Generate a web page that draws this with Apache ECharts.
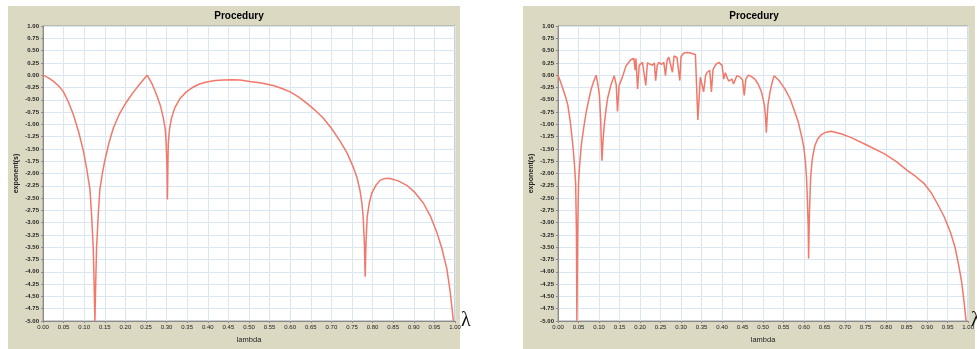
<!DOCTYPE html>
<html>
<head>
<meta charset="utf-8">
<script src="https://cdn.jsdelivr.net/npm/echarts@6/dist/echarts.min.js"></script>
<style>
html,body{margin:0;padding:0;background:#fff;}
#c{width:977px;height:349px;}
</style>
</head>
<body>
<div id="c"></div>
<script>
// Left panel: lambda vs exponent
const leftSeries = [
  [0,0],[0.012,-0.05],[0.025,-0.12],[0.037,-0.21],[0.049,-0.33],[0.062,-0.55],[0.074,-0.81],[0.086,-1.14],
  [0.098,-1.54],[0.106,-1.9],[0.114,-2.33],[0.118,-2.85],[0.122,-3.53],[0.124,-4.2],[0.126,-5],
  [0.128,-4.2],[0.130,-3.53],[0.134,-2.85],[0.138,-2.33],[0.144,-2.0],[0.150,-1.74],[0.160,-1.38],
  [0.171,-1.07],[0.186,-0.78],[0.203,-0.54],[0.219,-0.35],[0.235,-0.18],[0.245,-0.08],[0.253,0],
  [0.265,-0.18],[0.276,-0.41],[0.285,-0.62],[0.292,-0.87],[0.297,-1.12],[0.299,-1.4],[0.301,-1.9],
  [0.302,-2.53],[0.303,-1.9],[0.304,-1.4],[0.307,-1.1],[0.312,-0.87],[0.320,-0.66],[0.333,-0.47],
  [0.348,-0.34],[0.365,-0.24],[0.380,-0.18],[0.397,-0.14],[0.418,-0.11],[0.438,-0.10],[0.458,-0.095],
  [0.478,-0.10],[0.502,-0.13],[0.530,-0.16],[0.559,-0.21],[0.580,-0.27],[0.600,-0.34],[0.620,-0.44],
  [0.640,-0.57],[0.660,-0.71],[0.680,-0.87],[0.700,-1.08],[0.721,-1.34],[0.738,-1.58],[0.753,-1.87],
  [0.762,-2.08],[0.769,-2.33],[0.774,-2.6],[0.777,-2.87],[0.780,-3.4],[0.782,-4.1],[0.784,-3.4],
  [0.787,-2.87],[0.792,-2.6],[0.798,-2.40],[0.808,-2.24],[0.818,-2.14],[0.830,-2.10],[0.842,-2.10],
  [0.862,-2.15],[0.883,-2.24],[0.903,-2.39],[0.923,-2.60],[0.940,-2.86],[0.956,-3.2],[0.968,-3.52],
  [0.980,-3.93],[0.988,-4.38],[0.996,-5]
];
// Right panel: lambda vs exponent
const rightSeries = [
  [0,0],[0.006,-0.13],[0.012,-0.28],[0.018,-0.43],[0.024,-0.61],[0.030,-0.95],[0.036,-1.41],[0.040,-1.8],
  [0.043,-2.2],[0.045,-3.2],[0.046,-5],[0.048,-3.2],[0.050,-2.2],[0.053,-1.8],[0.057,-1.41],[0.063,-1.05],
  [0.069,-0.74],[0.075,-0.5],[0.081,-0.28],[0.087,-0.13],[0.093,0],[0.097,-0.18],[0.101,-0.41],
  [0.104,-0.9],[0.107,-1.74],[0.110,-1.3],[0.113,-1.0],[0.117,-0.7],[0.121,-0.47],[0.129,-0.2],
  [0.137,-0.01],[0.142,-0.2],[0.145,-0.74],[0.149,-0.21],[0.157,-0.04],[0.166,0.19],[0.178,0.32],
  [0.185,0.34],[0.188,0.1],[0.190,0.34],[0.194,-0.28],[0.198,0.2],[0.206,0.26],[0.214,-0.21],
  [0.218,0.25],[0.222,0.27],[0.230,0.2],[0.235,0.25],[0.238,-0.11],[0.242,0.2],[0.246,0.26],
  [0.252,0.22],[0.258,0.26],[0.262,-0.01],[0.266,0.3],[0.270,0.37],[0.279,0.06],[0.283,0.39],
  [0.290,0.36],[0.297,-0.11],[0.300,0.38],[0.307,0.45],[0.315,0.46],[0.323,0.45],[0.335,0.42],[0.341,-0.91],
  [0.347,-0.04],[0.355,-0.34],[0.360,0.0],[0.364,0.06],[0.370,0.1],[0.374,-0.34],[0.378,0.12],
  [0.385,0.22],[0.392,0.26],[0.400,0.2],[0.404,-0.08],[0.408,0.05],[0.412,-0.04],[0.416,-0.12],
  [0.420,-0.14],[0.424,-0.08],[0.428,-0.18],[0.436,-0.01],[0.444,-0.04],[0.450,-0.1],[0.454,-0.41],
  [0.458,-0.08],[0.464,0.0],[0.472,-0.03],[0.480,-0.08],[0.488,-0.18],[0.496,-0.34],[0.503,-0.6],
  [0.506,-0.85],[0.508,-1.17],[0.510,-0.85],[0.512,-0.6],[0.517,-0.34],[0.522,-0.15],[0.527,-0.01],
  [0.540,-0.12],[0.553,-0.28],[0.566,-0.48],[0.577,-0.74],[0.586,-0.96],[0.593,-1.21],[0.599,-1.45],
  [0.603,-1.74],[0.606,-2.1],[0.608,-2.53],[0.610,-3.1],[0.611,-3.73],[0.613,-2.8],[0.616,-2.07],
  [0.620,-1.7],[0.626,-1.44],[0.633,-1.3],[0.642,-1.21],[0.654,-1.16],[0.666,-1.14],[0.690,-1.19],
  [0.715,-1.27],[0.755,-1.43],[0.796,-1.60],[0.825,-1.76],[0.852,-1.94],[0.872,-2.06],[0.892,-2.20],
  [0.909,-2.38],[0.924,-2.60],[0.941,-2.87],[0.957,-3.2],[0.968,-3.5],[0.977,-3.87],[0.984,-4.2],
  [0.989,-4.54],[0.995,-5]
];
const titleText = 'Procedury';
const xName = 'lambda';
const yName = 'exponent(s)';
const xRange = [0, 1, 0.05];
const yRange = [-5, 1, 0.25];

const chart = echarts.init(document.getElementById('c'), null, {renderer: 'canvas'});
const fmt = v => v.toFixed(2);
function xAxis(i) {
  return {
    type: 'value', gridIndex: i, min: xRange[0], max: xRange[1], interval: xRange[2],
    name: xName, nameLocation: 'middle', nameGap: 15,
    nameTextStyle: {fontSize: 7.5, color: '#222', fontFamily: 'Liberation Sans'},
    axisLine: {show: true, onZero: false, lineStyle: {color: '#8a8a8a', width: 1}},
    axisTick: {show: true, length: 2, lineStyle: {color: '#8a8a8a'}},
    axisLabel: {fontSize: 6, color: '#222', margin: 3, formatter: fmt, fontFamily: 'Liberation Sans', showMaxLabel: true},
    splitLine: {show: true, lineStyle: {color: '#dbe7f0', width: 1}}
  };
}
function yAxis(i) {
  return {
    type: 'value', gridIndex: i, min: yRange[0], max: yRange[1], interval: yRange[2],
    name: yName, nameLocation: 'middle', nameGap: 23, nameRotate: 90,
    nameTextStyle: {fontSize: 7, color: '#222', fontWeight: 'bold', fontFamily: 'Liberation Sans'},
    axisLine: {show: true, onZero: false, lineStyle: {color: '#8a8a8a', width: 1}},
    axisTick: {show: true, length: 2, lineStyle: {color: '#8a8a8a'}},
    axisLabel: {fontSize: 6, color: '#222', margin: 4, formatter: fmt, fontFamily: 'Liberation Sans', fontWeight: 'bold'},
    splitLine: {show: true, lineStyle: {color: '#dbe7f0', width: 1}}
  };
}
const lineStyle = {color: '#f2786a', width: 1.5};
chart.setOption({
  animation: false,
  backgroundColor: '#fff',
  graphic: [
    {type: 'rect', left: 8, top: 6, z: -10, shape: {width: 452, height: 343}, style: {fill: '#dcd9c3'}},
    {type: 'rect', left: 523, top: 6, z: -10, shape: {width: 452, height: 343}, style: {fill: '#dcd9c3'}},
    {type: 'text', left: 461, top: 311, style: {text: 'λ', font: '20px "Liberation Serif"', fill: '#111'}},
    {type: 'text', left: 971, top: 311, style: {text: 'λ', font: '20px "Liberation Serif"', fill: '#111'}}
  ],
  title: [
    {text: titleText, left: 234, top: 6, textAlign: 'center', textStyle: {fontSize: 10, fontWeight: 'bold', color: '#000', fontFamily: 'Liberation Sans'}},
    {text: titleText, left: 749, top: 6, textAlign: 'center', textStyle: {fontSize: 10, fontWeight: 'bold', color: '#000', fontFamily: 'Liberation Sans'}}
  ],
  grid: [
    {left: 43, top: 26, width: 412, height: 301, show: true, backgroundColor: '#fff', borderColor: '#9a9a9a', borderWidth: 1},
    {left: 558, top: 26, width: 412, height: 301, show: true, backgroundColor: '#fff', borderColor: '#9a9a9a', borderWidth: 1}
  ],
  xAxis: [xAxis(0), xAxis(1)],
  yAxis: [yAxis(0), yAxis(1)],
  series: [
    {type: 'line', xAxisIndex: 0, yAxisIndex: 0, data: leftSeries, showSymbol: false, symbol: 'none', lineStyle: lineStyle},
    {type: 'line', xAxisIndex: 1, yAxisIndex: 1, data: rightSeries, showSymbol: false, symbol: 'none', lineStyle: lineStyle}
  ]
});
</script>
</body>
</html>
